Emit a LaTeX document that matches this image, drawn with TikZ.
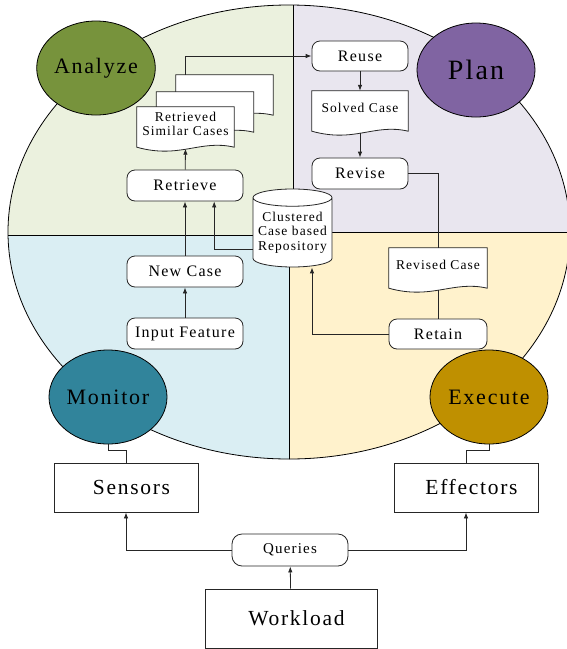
\documentclass[tikz,border=0pt]{standalone}
\usepackage{fontspec}
\setmainfont{Liberation Serif}[LetterSpace=8]
\usetikzlibrary{shapes.geometric,arrows.meta,calc}
\tikzset{>={Latex[length=6pt,width=4.5pt]}}
\definecolor{qgreen}{HTML}{EBF1DE}
\definecolor{qlilac}{HTML}{E9E6EF}
\definecolor{qblue}{HTML}{DAEEF3}
\definecolor{qyellow}{HTML}{FFF2CC}
\definecolor{analyzec}{HTML}{77933C}
\definecolor{planc}{HTML}{8064A2}
\definecolor{monitorc}{HTML}{31849B}
\definecolor{executec}{HTML}{BF9000}
\tikzset{quad/.style = {draw=black, line width=0.8pt},
phase/.style = {shape=ellipse, draw=black, line width=0.8pt, minimum width=118pt,
minimum height=94pt, inner sep=0pt, font=\fontsize{22}{24}\selectfont},
stepbox/.style = {shape=rectangle, rounded corners=8pt, draw=black!85, fill=white,
line width=0.8pt, minimum width=116pt, minimum height=31pt, inner sep=0pt,
font=\fontsize{16}{18}\selectfont},
docbox/.style = {shape=rectangle, fill=white, minimum width=97pt, minimum height=34pt,
inner sep=0pt, align=center, font=\fontsize{13.5}{14.5}\selectfont},
docline/.style = {draw=black!85, line width=0.8pt},
repo/.style = {shape=cylinder, shape border rotate=90, aspect=0.25, draw=black!85,
fill=white, line width=0.8pt, minimum width=79pt, minimum height=78pt, inner sep=0pt,
align=center, font=\fontsize{13.5}{14.5}\selectfont},
plainbox/.style = {shape=rectangle, draw=black!85, fill=white, line width=0.8pt,
minimum width=144pt, minimum height=49pt, inner sep=0pt,
execute at begin node={\hspace*{11pt}},
font=\fontsize{21.5}{24}\selectfont},
link/.style = {draw=black!85, line width=0.8pt}}
% wavy outline under a document node
\newcommand{\docoutline}[1]{%
  \fill[white] (#1.south west) -- ([yshift=-6pt]#1.south west)
    .. controls +(43pt,-12pt) and +(-34pt,8pt) .. ([yshift=-6pt]#1.south east)
    -- (#1.south east) -- cycle;
  \draw[docline] (#1.north west) -- ([yshift=-6pt]#1.south west)
    .. controls +(43pt,-12pt) and +(-34pt,8pt) .. ([yshift=-6pt]#1.south east)
    -- (#1.north east) -- cycle;}

\begin{document}
\begin{tikzpicture}[x=1pt, y=-1pt]
                \useasboundingbox (0,0) rectangle (567,649);

                % four quarters of the loop
                \begin{scope}
                \clip (289,232) ellipse [x radius=281, y radius=227];
                \filldraw[quad, fill=qgreen] (-5,-5) rectangle (293,235);
                \filldraw[quad, fill=qlilac] (293,-5) rectangle (575,232);
                \filldraw[quad, fill=qblue] (-5,235) rectangle (289,465);
                \filldraw[quad, fill=qyellow] (289,232) rectangle (575,465);
                \end{scope}
                \draw[quad] (289,232) ellipse [x radius=281, y radius=227];

                \node[phase, fill=analyzec] (analyze) at (96,68) {Analyze};
                \node[phase, fill=planc, font=\fontsize{28}{30}\selectfont] (plan) at (476,70) {Plan};
                \node[phase, fill=monitorc] (monitor) at (108,397) {Monitor};
                \node[phase, fill=executec] (execute) at (489,397) {Execute};

                \node[stepbox] (retrieve) at (185,185.5) {Retrieve};
                \node[stepbox] (newcase) at (185,271.5) {New Case};
                \node[stepbox] (inputfeat) at (185,333.5) {Input Feature};
                \node[stepbox, minimum width=96pt, minimum height=30pt] (reuse) at (360,56) {Reuse};
                \node[stepbox, minimum width=96pt] (revise) at (360,173.5) {Revise};
                \node[stepbox, minimum width=98pt, minimum height=30pt] (retain) at (438,334) {Retain};

                \node[docbox] (rsc3) at (224.5,92) {}; \docoutline{rsc3}
                \node[docbox] (rsc2) at (205,109) {}; \docoutline{rsc2}
                \node[docbox] (rsc1) at (185.5,124) {Retrieved\\Similar Cases}; \docoutline{rsc1}
                \node[docbox, minimum width=96pt] (solved) at (360,108) {Solved Case}; \docoutline{solved}
                \node[docbox, minimum width=98pt] (revised) at (438,265) {Revised Case}; \docoutline{revised}

                \node[repo] (repo) at (292.5,232.5) {Clustered\\Case based\\Repository};

                \node[plainbox] (sensors) at (126,487.5) {Sensors};
                \node[plainbox] (effectors) at (466,487.5) {Effectors};
                \node[stepbox, minimum height=32pt, rounded corners=10pt,
                      font=\fontsize{15}{17}\selectfont] (queries) at (290,550) {Queries};
                \node[plainbox, minimum width=172pt, minimum height=59pt] (workload) at (291,618.5) {Workload};

                \draw[link, ->] (inputfeat) -- (newcase);
                \draw[link, ->] (newcase) -- (retrieve);
                \draw[link, ->] (repo.203) -| ($(retrieve.south)!0.5!(retrieve.south east)$);
                \draw[link, ->] (retrieve) -- ([yshift=-7.5pt]rsc1.south);
                \draw[link, ->] (rsc1 |- rsc3.north) |- (reuse);
                \draw[link, ->] (reuse) -- (solved);
                \draw[link, ->] ([yshift=-7.5pt]solved.south) -- (revise);
                \draw[link] (revise.east) -| (revised.north);
                \draw[link] ([yshift=-7.5pt]revised.south) -- (retain);
                \draw[link, ->] (retain.west) -| ([xshift=19.5pt]repo.south);

                \draw[link] (monitor.south) -- ++(0,6) -| (sensors.north);
                \draw[link] (execute.south) -- ++(0,6) -| (effectors.north);
                \draw[link, ->] (queries.west) -| (sensors.south);
                \draw[link, ->] (queries.east) -| (effectors.south);
                \draw[link, ->] (workload) -- (queries);
            \end{tikzpicture}
\end{document}
